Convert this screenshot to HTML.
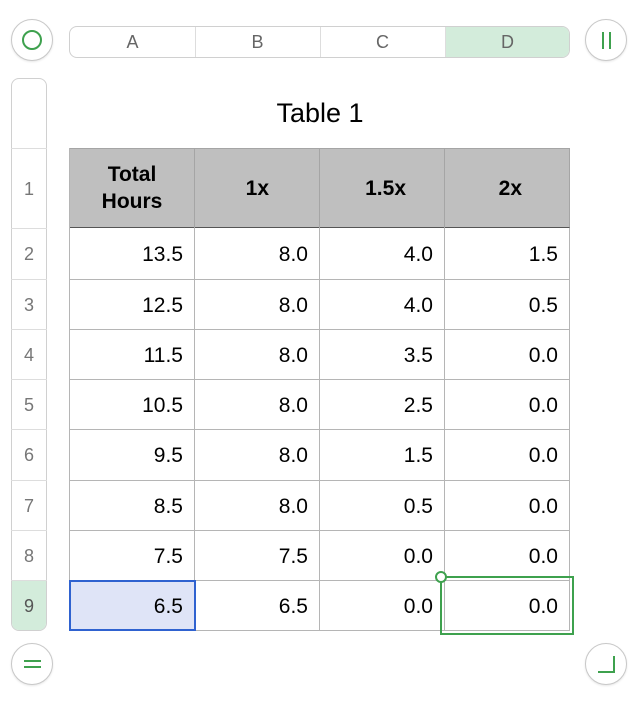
<!DOCTYPE html><html><head><style>
body{margin:0;width:640px;height:702px;background:#fff;font-family:"Liberation Sans",Arial,sans-serif;position:relative;overflow:hidden}
.a{position:absolute;box-sizing:border-box}
.circ{width:42px;height:42px;border-radius:50%;border:1px solid #c8c8c8;background:#fff;box-shadow:0 1px 2px rgba(0,0,0,.1)}
.ch{top:26px;height:32px;font-size:18px;color:#666;text-align:center;line-height:32px}
.rh{left:11px;width:36px;font-size:18px;color:#777;text-align:center}
.cell{border-right:1px solid #b5b5b5;border-bottom:1px solid #b5b5b5;font-size:21px;text-align:right;padding-right:11px;padding-top:3px}
</style></head><body>
<div class="a circ" style="left:11px;top:19px"><div class="a" style="left:10px;top:10px;width:20px;height:20px;border:2.5px solid #3ea14e;border-radius:50%"></div></div>
<div class="a circ" style="left:585px;top:19px"><div class="a" style="left:16px;top:12px;width:2px;height:17px;background:#3ea14e"></div><div class="a" style="left:23px;top:12px;width:2px;height:17px;background:#3ea14e"></div></div>
<div class="a circ" style="left:11px;top:643px"><div class="a" style="left:12px;top:16px;width:17px;height:2px;background:#3ea14e"></div><div class="a" style="left:12px;top:22px;width:17px;height:2px;background:#3ea14e"></div></div>
<div class="a circ" style="left:585px;top:643px"><div class="a" style="left:12px;top:12px;width:17px;height:17px;border-right:2px solid #3ea14e;border-bottom:2px solid #3ea14e"></div></div>

<div class="a" style="left:69px;top:26px;width:501px;height:32px;border:1px solid #d0d0d0;border-radius:8px;overflow:hidden">
<div class="a" style="left:375px;top:0;width:126px;height:32px;background:#d3ecdb"></div>
<div class="a" style="left:125px;top:0;width:1px;height:32px;background:#ddd"></div>
<div class="a" style="left:250px;top:0;width:1px;height:32px;background:#ddd"></div>
<div class="a" style="left:375px;top:0;width:1px;height:32px;background:#ddd"></div>
</div>
<div class="a ch" style="left:70px;width:125px">A</div>
<div class="a ch" style="left:195px;width:125px">B</div>
<div class="a ch" style="left:320px;width:125px">C</div>
<div class="a ch" style="left:445px;width:125px">D</div>

<div class="a" style="left:11px;top:78px;width:36px;height:553px;border:1px solid #d0d0d0;border-radius:8px;overflow:hidden">
<div class="a" style="left:0;top:502px;width:36px;height:51px;background:#d3ecdb"></div>
</div>
<div class="a rh" style="top:148px;height:80px;line-height:80px;border-top:1px solid #ddd">1</div>
<div class="a rh" style="top:228px;height:51px;line-height:51px;border-top:1px solid #ddd">2</div>
<div class="a rh" style="top:279px;height:50px;line-height:50px;border-top:1px solid #ddd">3</div>
<div class="a rh" style="top:329px;height:50px;line-height:50px;border-top:1px solid #ddd">4</div>
<div class="a rh" style="top:379px;height:50px;line-height:50px;border-top:1px solid #ddd">5</div>
<div class="a rh" style="top:429px;height:51px;line-height:51px;border-top:1px solid #ddd">6</div>
<div class="a rh" style="top:480px;height:50px;line-height:50px;border-top:1px solid #ddd">7</div>
<div class="a rh" style="top:530px;height:50px;line-height:50px;border-top:1px solid #ddd">8</div>
<div class="a rh" style="top:580px;height:50px;line-height:50px;border-top:1px solid #ddd;color:#555">9</div>

<div class="a" style="left:70px;top:96px;width:500px;text-align:center;font-size:27px;line-height:34px">Table 1</div>

<div class="a" style="left:69px;top:148px;width:501px;height:80px;background:#bfbfbf;border:1px solid #a5a5a5;border-bottom:1px solid #555"></div>
<div class="a" style="left:69px;top:148px;width:1px;height:483px;background:#b5b5b5"></div>
<div class="a" style="left:70px;top:149px;width:125px;height:79px;font-weight:bold;font-size:21px;text-align:center;line-height:27px;padding-top:12px;border-right:1px solid #a5a5a5">Total<br>Hours</div>
<div class="a" style="left:195px;top:149px;width:125px;height:79px;font-weight:bold;font-size:21px;text-align:right;padding-right:50px;line-height:79px;border-right:1px solid #a5a5a5">1x</div>
<div class="a" style="left:320px;top:149px;width:125px;height:79px;font-weight:bold;font-size:21px;text-align:right;padding-right:38px;line-height:79px;border-right:1px solid #a5a5a5">1.5x</div>
<div class="a" style="left:445px;top:149px;width:125px;height:79px;font-weight:bold;font-size:21px;text-align:right;padding-right:48px;line-height:79px">2x</div>

<div id="g"></div>
<script>
var d=[[13.5,8,4,1.5],[12.5,8,4,.5],[11.5,8,3.5,0],[10.5,8,2.5,0],[9.5,8,1.5,0],[8.5,8,.5,0],[7.5,7.5,0,0],[6.5,6.5,0,0]];
var ys=[228,279,329,379,429,480,530,580,630],h='';
for(var r=0;r<8;r++)for(var c=0;c<4;c++){var y=ys[r],H=ys[r+1]-y;
h+='<div class="a cell" style="left:'+(70+c*125)+'px;top:'+y+'px;width:125px;height:'+(H+1)+'px;line-height:'+(H-3)+'px'+(r==7&&c==0?';background:#dfe4f7':'')+'">'+d[r][c].toFixed(1)+'</div>';}
document.getElementById('g').innerHTML=h;
</script>
<div class="a" style="left:69px;top:580px;width:127px;height:51px;border:2px solid #2f62d0"></div>
<div class="a" style="left:440px;top:576px;width:134px;height:59px;border:2px solid #3ea14e"></div>
<div class="a" style="left:435px;top:571px;width:12px;height:12px;border:2px solid #3ea14e;border-radius:50%;background:#fff"></div>
</body></html>
